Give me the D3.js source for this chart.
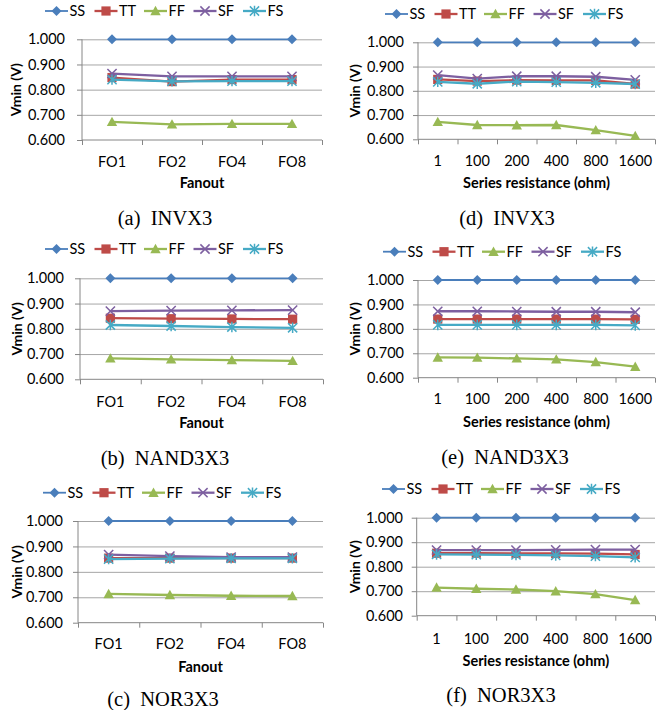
<!DOCTYPE html>
<html><head><meta charset="utf-8">
<script src="https://cdn.jsdelivr.net/npm/d3@7"></script>
<style>body{margin:0;background:#fff} svg{display:block}</style>
</head><body><svg id="c" width="657" height="710"></svg>
<script>
const seriesNames = ["SS","TT","FF","SF","FS"];
const fanoutLabels = ["FO1","FO2","FO4","FO8"];
const resistanceLabels = ["1","100","200","400","800","1600"];
const yTickValues = [0.6,0.7,0.8,0.9,1.0];
const captions = ["(a)","(d)","(b)","(e)","(c)","(f)"];
const cellNames = ["INVX3","INVX3","NAND3X3","NAND3X3","NOR3X3","NOR3X3"];
const xTitles = ["Fanout","Series resistance (ohm)"];

// rows: SS, TT, FF, SF, FS
const invx3Fanout = [
  [1.000,1.000,1.000,1.000],
  [0.848,0.832,0.840,0.840],
  [0.672,0.662,0.664,0.664],
  [0.864,0.853,0.853,0.853],
  [0.840,0.833,0.834,0.834]
];
const invx3Resistance = [
  [1.000,1.000,1.000,1.000,1.000,1.000],
  [0.847,0.840,0.844,0.843,0.843,0.828],
  [0.672,0.659,0.658,0.659,0.638,0.614],
  [0.865,0.850,0.860,0.860,0.858,0.845],
  [0.837,0.829,0.838,0.836,0.833,0.828]
];
const nand3x3Fanout = [
  [1.000,1.000,1.000,1.000],
  [0.842,0.840,0.839,0.838],
  [0.683,0.679,0.676,0.673],
  [0.870,0.872,0.873,0.874],
  [0.815,0.811,0.807,0.804]
];
const nand3x3Resistance = [
  [1.000,1.000,1.000,1.000,1.000,1.000],
  [0.840,0.840,0.840,0.840,0.840,0.839],
  [0.683,0.682,0.679,0.675,0.664,0.645],
  [0.872,0.872,0.871,0.870,0.870,0.868],
  [0.816,0.816,0.816,0.816,0.816,0.814]
];
const nor3x3Fanout = [
  [1.000,1.000,1.000,1.000],
  [0.854,0.854,0.854,0.854],
  [0.713,0.709,0.706,0.705],
  [0.868,0.862,0.858,0.858],
  [0.850,0.852,0.853,0.853]
];
const nor3x3Resistance = [
  [1.000,1.000,1.000,1.000,1.000,1.000],
  [0.855,0.855,0.854,0.854,0.853,0.850],
  [0.715,0.710,0.707,0.700,0.688,0.664],
  [0.868,0.868,0.868,0.869,0.870,0.870],
  [0.850,0.849,0.848,0.846,0.843,0.838]
];

const colors = ["#4a7ebb","#be4b48","#98b954","#7d5fa0","#46aac5"];
const markerTypes = ["diamond","square","triangle","x","star"];
const FONT = "Lato, 'Open Sans', sans-serif";

const panels = [
  {data:invx3Fanout, cats:fanoutLabels, title:0, L:82, R:322, T:39.3, B:140, labelR:65, legY:11, legX:45, tickY:162, titleY:183, capY:218, capX:165, yTitleX:16},
  {data:invx3Resistance, cats:resistanceLabels, title:1, L:418, R:655, T:42.3, B:139.3, labelR:404, legY:14, legX:385, tickY:161, titleY:183, capY:218, capX:507, yTitleX:355},
  {data:nand3x3Fanout, cats:fanoutLabels, title:0, L:80, R:323, T:278.3, B:379.3, labelR:64, legY:249, legX:45, tickY:402, titleY:423, capY:458, capX:165, yTitleX:17},
  {data:nand3x3Resistance, cats:resistanceLabels, title:1, L:418, R:655, T:280, B:377.7, labelR:404, legY:251.7, legX:383, tickY:399, titleY:421.7, capY:457, capX:505, yTitleX:355},
  {data:nor3x3Fanout, cats:fanoutLabels, title:0, L:78, R:323, T:521, B:622.7, labelR:63, legY:492.7, legX:43, tickY:644, titleY:667, capY:699, capX:163, yTitleX:17},
  {data:nor3x3Resistance, cats:resistanceLabels, title:1, L:416.7, R:655, T:517.7, B:615.7, labelR:403, legY:489, legX:382, tickY:639, titleY:660.7, capY:695, capX:501, yTitleX:355}
];

const svg = d3.select("#c");

function marker(g, type, color) {
  if (type === "diamond") {
    g.append("path").attr("d","M0,-5L5,0L0,5L-5,0Z").attr("fill",color);
  } else if (type === "square") {
    g.append("rect").attr("x",-4.6).attr("y",-4.6).attr("width",9.2).attr("height",9.2).attr("fill",color);
  } else if (type === "triangle") {
    g.append("path").attr("d","M0,-5.2L5.2,4.2L-5.2,4.2Z").attr("fill",color);
  } else if (type === "x") {
    g.append("path").attr("d","M-4.6,-4.6L4.6,4.6M-4.6,4.6L4.6,-4.6").attr("stroke",color).attr("stroke-width",1.5).attr("fill","none");
  } else {
    g.append("path").attr("d","M-4.6,-4.6L4.6,4.6M-4.6,4.6L4.6,-4.6M0,-5.2L0,5.2").attr("stroke",color).attr("stroke-width",1.5).attr("fill","none");
  }
}

panels.forEach((p, pi) => {
  const g = svg.append("g");
  const y = d3.scaleLinear().domain([0.6, 1.0]).range([p.B, p.T]);
  const x = d3.scaleBand().domain(p.cats).range([p.L, p.R]).padding(0);
  const xc = d => x(d) + x.bandwidth()/2;

  // gridlines
  const grid = g.append("g").attr("transform",`translate(${p.L},0)`)
    .call(d3.axisLeft(y).tickValues(yTickValues.slice(1)).tickSize(-(p.R-p.L)).tickFormat(""));
  grid.select(".domain").remove();
  grid.selectAll("line").attr("stroke","#a6a6a6").attr("stroke-width",1);

  // y axis
  const ya = g.append("g").attr("transform",`translate(${p.L},0)`)
    .call(d3.axisLeft(y).tickValues(yTickValues).tickFormat(d3.format(".3f")).tickSize(5).tickPadding(p.L - p.labelR - 5));
  ya.select(".domain").attr("stroke","#868686").attr("d",`M0,${p.B}V${p.T}`);
  ya.selectAll("line").attr("stroke","#868686");
  ya.selectAll("text").attr("font-family",FONT).attr("font-size","14.5px").attr("fill","#000");

  // x axis: boundary ticks
  const xb = d3.scaleLinear().domain([0, p.cats.length]).range([p.L, p.R]);
  const xa = g.append("g").attr("transform",`translate(0,${p.B})`)
    .call(d3.axisBottom(xb).ticks(p.cats.length).tickFormat("").tickSize(5));
  xa.select(".domain").attr("stroke","#868686").attr("d",`M${p.L},0H${p.R}`);
  xa.selectAll("line").attr("stroke","#868686");
  // x labels
  const xl = g.append("g").attr("transform",`translate(0,${p.B})`)
    .call(d3.axisBottom(x).tickSize(0));
  xl.select(".domain").remove();
  xl.selectAll("text").attr("y", p.tickY - p.B).attr("dy","0.36em")
    .attr("font-family",FONT).attr("font-size","14.5px").attr("fill","#000");

  // series
  p.data.forEach((vals, si) => {
    const pts = vals.map((v,i) => [xc(p.cats[i]), y(v)]);
    g.append("path").attr("d", d3.line()(pts)).attr("fill","none")
      .attr("stroke", colors[si]).attr("stroke-width", si === 0 ? 1.8 : 2.3).attr("stroke-linejoin","round");
    pts.forEach(pt => {
      const mg = g.append("g").attr("transform",`translate(${pt[0]},${pt[1]})`);
      marker(mg, markerTypes[si], colors[si]);
    });
  });

  // legend
  seriesNames.forEach((name, si) => {
    const lg = g.append("g").attr("transform",`translate(${p.legX + si*49.5},${p.legY})`);
    lg.append("line").attr("x1",0).attr("x2",23).attr("y1",0).attr("y2",0)
      .attr("stroke",colors[si]).attr("stroke-width", si === 0 ? 1.8 : 2.3);
    const mg = lg.append("g").attr("transform","translate(11.5,0)");
    marker(mg, markerTypes[si], colors[si]);
    lg.append("text").attr("x",24.5).attr("y",0).attr("dy","0.36em")
      .attr("font-family",FONT).attr("font-size","14.5px").text(name);
  });

  // axis titles
  g.append("text").attr("x",(p.L+p.R)/2).attr("y",p.titleY).attr("dy","0.36em")
    .attr("text-anchor","middle").attr("font-family",FONT).attr("font-weight","bold")
    .attr("font-size","14.5px").text(xTitles[p.title]);
  g.append("text").attr("transform",`translate(${p.yTitleX},${(p.T+p.B)/2}) rotate(-90)`)
    .attr("dy","0.36em").attr("text-anchor","middle").attr("font-family",FONT)
    .attr("font-weight","bold").attr("font-size","14px").text("Vmin (V)");

  // caption
  g.append("text").attr("x",p.capX).attr("y",p.capY).attr("dy","0.35em")
    .attr("text-anchor","middle").attr("font-family","'Liberation Serif', 'Times New Roman', serif")
    .attr("font-size","20.5px").text(captions[pi] + "\u2002" + cellNames[pi]);
});
</script></body></html>
